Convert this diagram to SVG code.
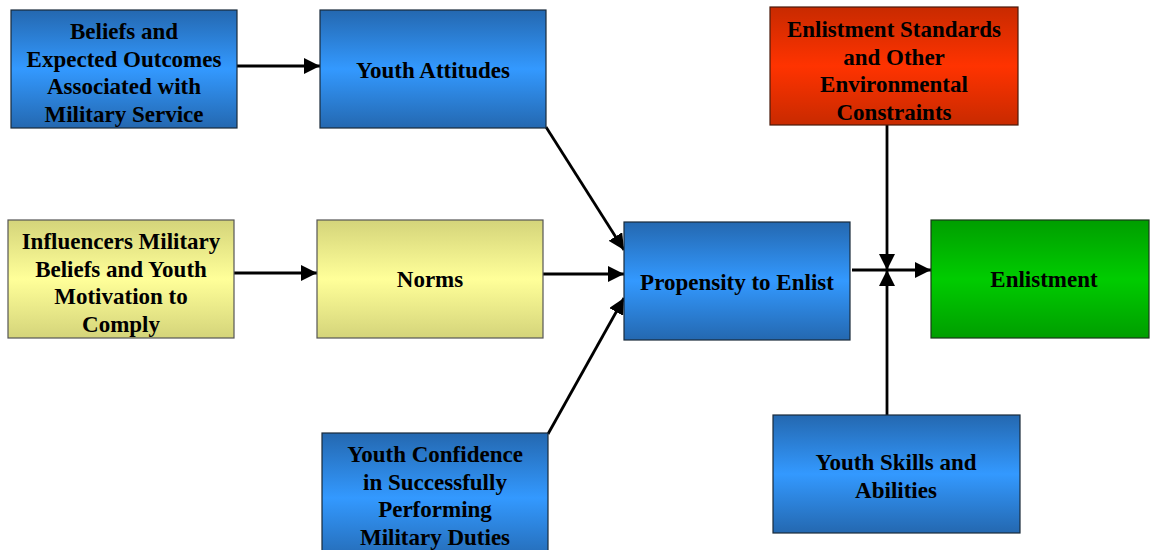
<svg xmlns="http://www.w3.org/2000/svg" width="1150" height="550" viewBox="0 0 1150 550">
<defs>
<linearGradient id="gBlue" x1="0" y1="0" x2="0" y2="1">
<stop offset="0" stop-color="#2468b0"/><stop offset="0.5" stop-color="#3399ff"/><stop offset="1" stop-color="#2468b0"/>
</linearGradient>
<linearGradient id="gYellow" x1="0" y1="0" x2="0" y2="1">
<stop offset="0" stop-color="#d4d47a"/><stop offset="0.5" stop-color="#ffff99"/><stop offset="1" stop-color="#d4d47a"/>
</linearGradient>
<linearGradient id="gRed" x1="0" y1="0" x2="0" y2="1">
<stop offset="0" stop-color="#c82a00"/><stop offset="0.5" stop-color="#ff3300"/><stop offset="1" stop-color="#c82a00"/>
</linearGradient>
<linearGradient id="gGreen" x1="0" y1="0" x2="0" y2="1">
<stop offset="0" stop-color="#009e00"/><stop offset="0.5" stop-color="#00cc00"/><stop offset="1" stop-color="#009e00"/>
</linearGradient>
<marker id="arr" viewBox="0 0 16 16" refX="16" refY="8" markerWidth="16" markerHeight="16" markerUnits="userSpaceOnUse" orient="auto">
<path d="M0,0 L16,8 L0,16 Z" fill="#000"/>
</marker>
<style>
.box{stroke:#1a2a3a;stroke-width:1.2}
.blue{fill:url(#gBlue)}
.yellow{fill:url(#gYellow);stroke:#555}
.red{fill:url(#gRed);stroke:#4a1a0a}
.green{fill:url(#gGreen);stroke:#1a3a1a}
text{font-family:"Liberation Serif","Times New Roman",serif;font-weight:bold;font-size:23px;fill:#000;text-anchor:middle}
.conn{stroke:#000;stroke-width:2.8;fill:none;marker-end:url(#arr)}
</style>
</defs>
<g id="connectors">
<line class="conn" x1="237" y1="66" x2="320" y2="66"/>
<line class="conn" x1="234" y1="273" x2="317" y2="273"/>
<line class="conn" x1="543" y1="274" x2="624" y2="274"/>
<line class="conn" x1="546" y1="127" x2="624" y2="250"/>
<line class="conn" x1="548" y1="434" x2="624" y2="298"/>
<line class="conn" x1="852" y1="270" x2="931" y2="270"/>
<line class="conn" x1="887" y1="125" x2="887" y2="270"/>
<line class="conn" x1="887" y1="415" x2="887" y2="270"/>
</g>
<g id="beliefs">
<rect class="box blue" x="11" y="10" width="226" height="118"/>
<text x="124" y="39">Beliefs and</text>
<text x="124" y="67">Expected Outcomes</text>
<text x="124" y="94">Associated with</text>
<text x="124" y="122">Military Service</text>
</g>
<g id="attitudes">
<rect class="box blue" x="320" y="10" width="226" height="118"/>
<text x="433" y="78">Youth Attitudes</text>
</g>
<g id="influencers">
<rect class="box yellow" x="8" y="220" width="226" height="118"/>
<text x="121" y="249">Influencers Military</text>
<text x="121" y="277">Beliefs and Youth</text>
<text x="121" y="304">Motivation to</text>
<text x="121" y="332">Comply</text>
</g>
<g id="norms">
<rect class="box yellow" x="317" y="220" width="226" height="118"/>
<text x="430" y="287">Norms</text>
</g>
<g id="propensity">
<rect class="box blue" x="624" y="222" width="226" height="118"/>
<text x="737" y="290">Propensity to Enlist</text>
</g>
<g id="standards">
<rect class="box red" x="770" y="7" width="248" height="118"/>
<text x="894" y="37">Enlistment Standards</text>
<text x="894" y="65">and Other</text>
<text x="894" y="92">Environmental</text>
<text x="894" y="120">Constraints</text>
</g>
<g id="enlistment">
<rect class="box green" x="931" y="220" width="218" height="118"/>
<text x="1044" y="287">Enlistment</text>
</g>
<g id="confidence">
<rect class="box blue" x="322" y="433" width="226" height="130"/>
<text x="435" y="462">Youth Confidence</text>
<text x="435" y="490">in Successfully</text>
<text x="435" y="517">Performing</text>
<text x="435" y="545">Military Duties</text>
</g>
<g id="skills">
<rect class="box blue" x="773" y="415" width="247" height="118"/>
<text x="896" y="470">Youth Skills and</text>
<text x="896" y="498">Abilities</text>
</g>
</svg>
